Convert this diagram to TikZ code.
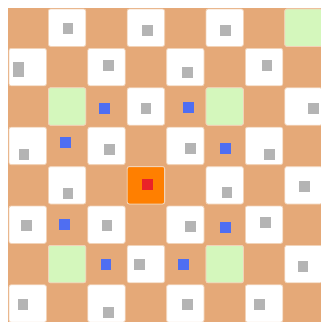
\documentclass[tikz,border=0pt]{standalone}
\usepackage{tikz}
\definecolor{boardtan}{HTML}{E5A978}
\definecolor{celledge}{HTML}{F2D3B8}
\definecolor{targetgreen}{HTML}{D4F7BC}
\definecolor{kingorange}{HTML}{FF7F00}
\definecolor{kingred}{HTML}{EA2228}
\definecolor{jumpblue}{HTML}{4F6EF2}
\definecolor{markgrey}{HTML}{B4B4B4}
\newcommand{\Pitch}{39.4}
\newcommand{\Cell}[3]{%
  \draw[cellbox,fill=#3] ({8+\Pitch*#1+1},{8+\Pitch*#2+1}) rectangle ({8+\Pitch*(#1+1)-1},{8+\Pitch*(#2+1)-1});
}
\newcommand{\Mark}[3]{%
  \fill[#3] ({#1-5.3},{#2-5.5}) rectangle ({#1+5.3},{#2+5.5});
}

\begin{document}
\begin{tikzpicture}[x=.75pt,y=-.75pt,
  cellbox/.style={draw=celledge,line width=.6pt,rounded corners=1.6pt}]
  \useasboundingbox (0,0) rectangle (321,322);
  \clip (0,0) rectangle (321,322);
  \fill[boardtan] (8,8) rectangle ({8+8*\Pitch},{8+8*\Pitch});
  % light squares
  \foreach \r in {0,...,7}
    \foreach \c in {0,...,7}{
      \pgfmathparse{int(mod(\r+\c,2))}
      \ifnum\pgfmathresult=1 \Cell{\c}{\r}{white}\fi
    }
  % reachable squares and the piece
  \Cell{7}{0}{targetgreen}
  \Cell{1}{2}{targetgreen}
  \Cell{5}{2}{targetgreen}
  \Cell{1}{6}{targetgreen}
  \Cell{5}{6}{targetgreen}
  \Cell{3}{4}{kingorange}
  \Mark{147.5}{184.5}{kingred}
  % jumps
  \foreach \x/\y in {104.5/108,188.5/107,65.5/142.5,225.5/148,64.5/224.5,225.5/227,106/264.5,183.5/264}
    \Mark{\x}{\y}{jumpblue}
  % grey marks
  \foreach \x/\y in {68/28,147.5/30.5,225.5/30.5,108.5/65.5,187.5/72,267/65,146/108,313.5/108,
    24/154,109.5/149.5,190.5/148,269.5/154,68/193.5,227/192.5,304.5/186,26.5/225.5,107/225.5,
    190.5/226,265.5/222,139.5/264.5,303/266,23/304.5,108.5/312.5,187.5/304.5,259.5/304.5}
    \Mark{\x}{\y}{markgrey}
  \fill[markgrey] (13,62) rectangle (24,77);
\end{tikzpicture}
\end{document}
